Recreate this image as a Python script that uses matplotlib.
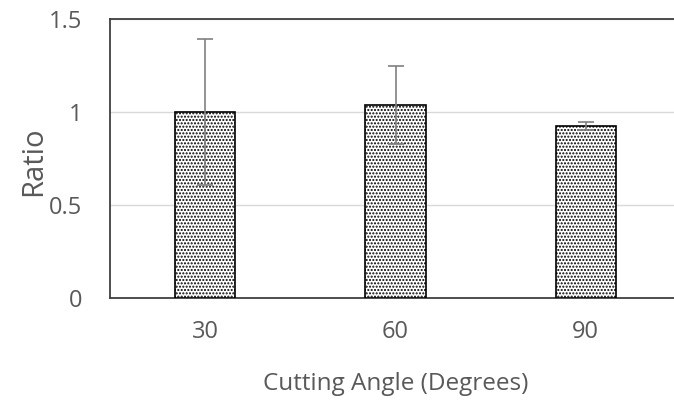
import matplotlib
matplotlib.use("Agg")
import matplotlib.pyplot as plt

categories = ["30", "60", "90"]
ratio = [1.00, 1.04, 0.925]
err = [0.39, 0.21, 0.02]
yticks = [0, 0.5, 1, 1.5]
ytick_labels = ["0", "0.5", "1", "1.5"]

plt.rcParams['font.family'] = ['Open Sans', 'DejaVu Sans']
plt.rcParams['hatch.color'] = '#555555'
plt.rcParams['hatch.linewidth'] = 1.0

fig = plt.figure(figsize=(6.74, 4.0), dpi=100)
ax = fig.add_axes([110/674, 1-298/400, 571/674, (298-19)/400])

x = list(range(len(categories)))
ax.bar(x, ratio, width=60/190, color='white', edgecolor='black', linewidth=1.2,
       hatch='.....', zorder=3)
ax.errorbar(x, ratio, yerr=err, fmt='none', ecolor='#808080', elinewidth=1.2,
            capsize=6, capthick=1.2, zorder=4)

ax.set_xlim(-0.5, 2.5)
ax.set_ylim(0, 1.5)
ax.set_yticks(yticks)
ax.set_yticklabels(ytick_labels)
ax.set_xticks(x)
ax.set_xticklabels(categories)
ax.tick_params(axis='both', length=0, labelsize=17, colors='#595959')
ax.tick_params(axis='x', pad=16)
ax.tick_params(axis='y', pad=20)
ax.yaxis.grid(True, color='#d9d9d9', linewidth=1.0, zorder=0)
ax.set_axisbelow(True)
for s in ['left', 'bottom', 'top']:
    ax.spines[s].set_color('#404040')
    ax.spines[s].set_linewidth(1.3)
ax.spines['right'].set_visible(False)

ax.set_ylabel("Ratio", fontsize=21, color='#595959')
ax.yaxis.set_label_coords(-0.108, 0.49)
ax.set_xlabel("Cutting Angle (Degrees)", fontsize=17.5, color='#595959', labelpad=20)

fig.savefig("out.png", dpi=100)
